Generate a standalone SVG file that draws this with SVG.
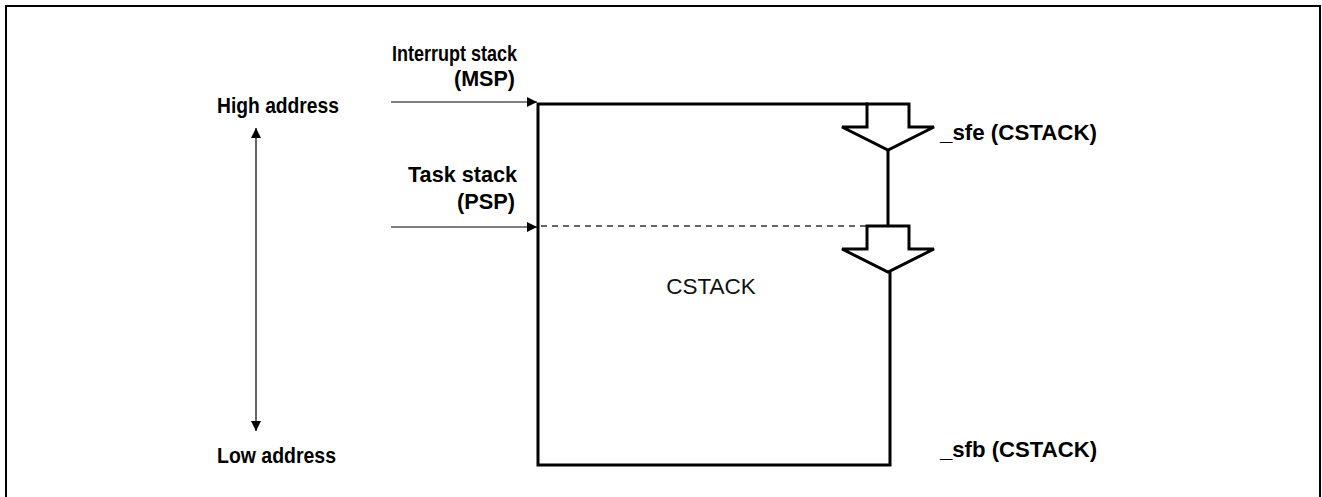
<svg xmlns="http://www.w3.org/2000/svg" width="1322" height="497" viewBox="0 0 1322 497">
  <style>
    .lbl { font-family: "Liberation Sans", Arial, sans-serif; font-weight: bold; font-size: 22.5px; fill: #000; }
    .reg { font-family: "Liberation Sans", Arial, sans-serif; font-size: 22.5px; fill: #111; }
    .thick { fill: none; stroke: #000; stroke-width: 3; stroke-linejoin: miter; }
    .thin { fill: none; stroke: #000; stroke-width: 1.2; }
    .dash { fill: none; stroke: #333; stroke-width: 1.5; stroke-dasharray: 6 5; }
  </style>
  <defs>
    <marker id="ah" viewBox="0 0 10 10" refX="10" refY="5" markerWidth="10" markerHeight="10" markerUnits="userSpaceOnUse" orient="auto-start-reverse">
      <path d="M0,0 L10,5 L0,10 Z" fill="#000"/>
    </marker>
  </defs>
  <rect width="1322" height="497" fill="#fff"/>
  <path d="M6,500 L6,6 L1320,6 L1320,500" fill="none" stroke="#000" stroke-width="2"/>

  <g id="connectors">
    <line class="thin" x1="391" y1="102" x2="537" y2="102" marker-end="url(#ah)"/>
    <line class="thin" x1="391" y1="227" x2="537" y2="227" marker-end="url(#ah)"/>
    <line class="thin" x1="256" y1="128" x2="256" y2="431" marker-start="url(#ah)" marker-end="url(#ah)"/>
    <line class="dash" x1="541" y1="226" x2="880" y2="226"/>
    <line x1="888" y1="150" x2="888" y2="227" stroke="#000" stroke-width="3"/>
  </g>

  <g id="cstack">
    <path class="thick" d="M890,272 L890,465 L538,465 L538,104 L868,104"/>
    <text class="reg" x="711" y="294" text-anchor="middle">CSTACK</text>
  </g>

  <g id="arrow-sfe">
    <path class="thick" d="M867,104 L909,104 L909,127 L934,127 L888,150 L842,127 L867,127 Z" fill="#fff"/>
  </g>
  <g id="arrow-psp">
    <path class="thick" d="M867,226 L909,226 L909,249 L934,249 L888,272 L842,249 L867,249 Z" fill="#fff"/>
  </g>

  <g id="labels">
    <text class="lbl" x="217" y="113" textLength="122" lengthAdjust="spacingAndGlyphs">High address</text>
    <text class="lbl" x="217" y="463" textLength="119" lengthAdjust="spacingAndGlyphs">Low address</text>
    <text class="lbl" x="392" y="61" textLength="125" lengthAdjust="spacingAndGlyphs">Interrupt stack</text>
    <text class="lbl" x="454" y="86" textLength="61" lengthAdjust="spacingAndGlyphs">(MSP)</text>
    <text class="lbl" x="408" y="182" textLength="109" lengthAdjust="spacingAndGlyphs">Task stack</text>
    <text class="lbl" x="457" y="209" textLength="58" lengthAdjust="spacingAndGlyphs">(PSP)</text>
    <text class="lbl" x="940" y="140" textLength="157" lengthAdjust="spacingAndGlyphs">_sfe (CSTACK)</text>
    <text class="lbl" x="940" y="457" textLength="157" lengthAdjust="spacingAndGlyphs">_sfb (CSTACK)</text>
  </g>
</svg>
